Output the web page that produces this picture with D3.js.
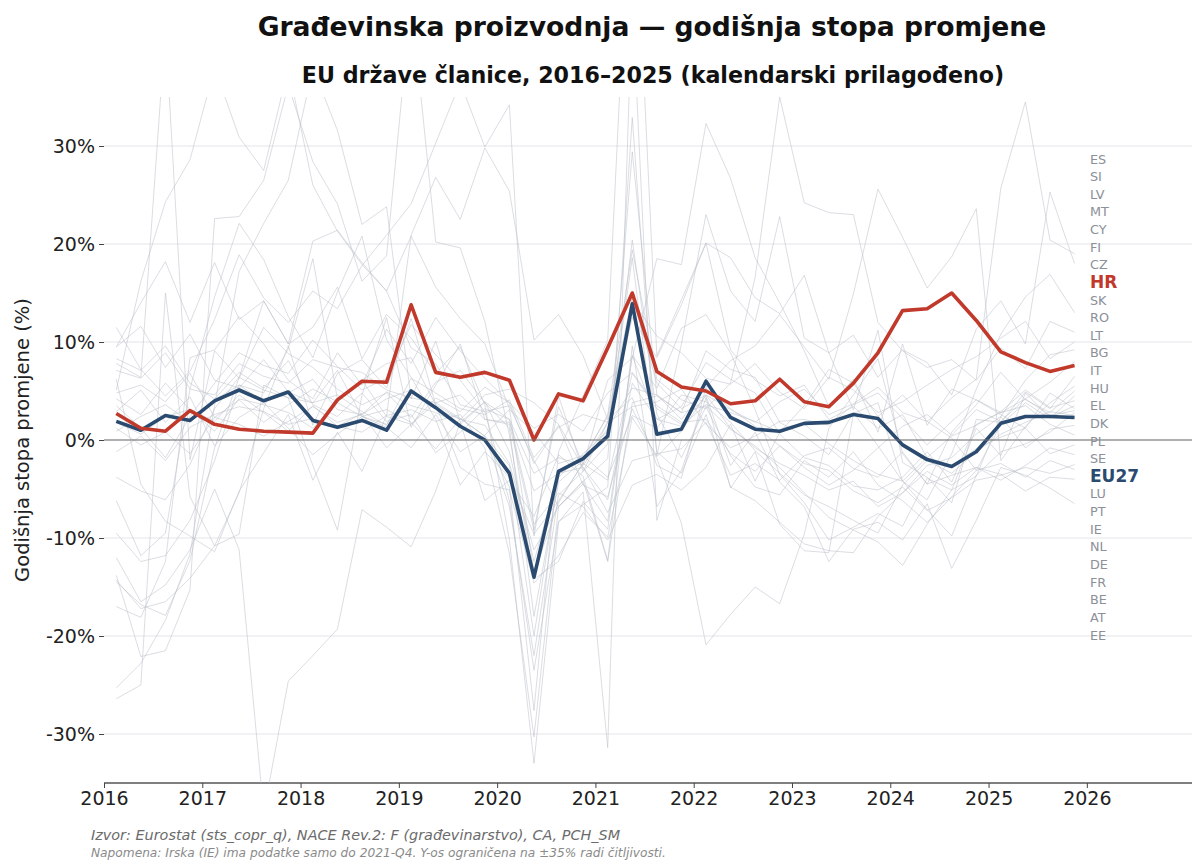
<!DOCTYPE html>
<html><head><meta charset="utf-8">
<script src="https://cdn.jsdelivr.net/npm/d3@7"></script>
<style>
body{margin:0;background:#fff}
svg{display:block}
text{font-family:"DejaVu Sans",sans-serif}
</style>
</head><body>
<svg id="chart" width="1193" height="861"></svg>
<script>
// ---- categories ----
const quarters = ["2016-Q1","2016-Q2","2016-Q3","2016-Q4","2017-Q1","2017-Q2","2017-Q3","2017-Q4",
"2018-Q1","2018-Q2","2018-Q3","2018-Q4","2019-Q1","2019-Q2","2019-Q3","2019-Q4",
"2020-Q1","2020-Q2","2020-Q3","2020-Q4","2021-Q1","2021-Q2","2021-Q3","2021-Q4",
"2022-Q1","2022-Q2","2022-Q3","2022-Q4","2023-Q1","2023-Q2","2023-Q3","2023-Q4",
"2024-Q1","2024-Q2","2024-Q3","2024-Q4","2025-Q1","2025-Q2","2025-Q3","2025-Q4"];

// ---- highlighted series ----
const HR   = [2.7,1.2,0.9,3.0,1.6,1.1,0.9,0.8,0.7,4.1,6.0,5.9,13.8,6.9,6.4,6.9,6.1,0.0,4.7,4.0,9.4,15.0,7.0,5.4,5.0,3.7,4.0,6.2,3.9,3.4,5.8,8.9,13.2,13.4,15.0,12.2,9.0,7.9,7.0,7.6];
const EU27 = [1.9,1.0,2.5,2.0,4.0,5.1,4.0,4.9,2.0,1.3,2.0,1.0,5.0,3.3,1.4,0.0,-3.4,-14.0,-3.2,-1.9,0.4,13.9,0.6,1.1,6.0,2.3,1.1,0.9,1.7,1.8,2.6,2.2,-0.5,-2.0,-2.7,-1.2,1.7,2.4,2.4,2.3];

// ---- other member states ----
const ES = [3.5,1.2,-1.8,2.4,5.8,8.9,7.6,6.8,10.2,7.5,5.1,6.3,11.8,8.7,6.1,2.9,-6.2,-23.5,-8.3,-6.6,-4.8,32.9,-1.7,0.9,4.6,3.1,1.8,3.9,5.2,2.6,3.7,5.4,2.8,1.9,4.3,6.2,25.7,34.5,20.4,19.0];
const SI = [11.5,7.2,4.5,7.0,12.3,18.9,14.5,12.0,15.2,13.4,17.8,20.9,24.1,30.3,36.5,29.9,34.2,-9.8,4.5,-3.2,1.8,12.5,8.4,13.8,20.1,18.6,14.5,12.9,16.8,8.9,10.7,6.4,9.2,7.9,4.6,11.3,14.2,9.8,25.3,18.0];
const LV = [-25.3,-22.8,-18.4,-11.6,3.5,17.2,22.1,26.5,38.0,31.6,22.0,23.8,4.2,10.1,1.8,-6.2,-4.1,-7.8,-1.5,-3.7,-12.3,9.6,-6.8,-3.1,4.3,-4.9,-1.2,-8.6,-11.3,-11.5,2.7,3.8,-4.2,-6.1,-1.4,5.2,10.8,14.6,16.9,13.0];
const MT = [7.8,6.4,42.0,-2.0,9.1,6.3,11.5,8.8,7.4,5.2,3.6,4.8,2.3,5.9,7.1,3.8,1.2,-18.0,-4.3,-2.1,2.6,19.4,6.2,4.1,3.2,5.8,16.6,35.0,24.2,23.2,23.0,12.0,9.1,7.4,8.2,6.1,9.4,7.3,12.1,11.0];
const CY = [5.1,16.2,24.3,28.6,38.0,30.9,27.5,38.0,26.0,21.3,17.9,15.2,20.8,15.6,12.4,9.8,3.2,-13.6,-6.4,-2.3,1.8,14.2,10.6,8.9,6.3,5.7,7.8,4.9,3.2,6.4,5.1,2.8,3.9,5.6,7.2,8.5,10.4,12.1,8.3,10.0];
const FI = [8.3,7.1,9.6,5.8,4.2,6.9,5.3,8.1,3.6,2.4,4.8,1.9,2.6,-1.3,0.8,3.2,2.1,-3.4,-1.8,-2.6,1.2,5.3,4.6,2.8,3.5,1.1,-0.6,-2.8,-5.4,-7.9,-9.2,-10.4,-12.8,-8.6,-5.1,-3.7,2.4,6.1,8.7,9.2];
const CZ = [-9.5,-12.4,-11.8,-8.2,-2.1,5.6,4.8,9.3,18.5,4.2,6.1,7.8,8.4,3.6,2.1,1.5,-2.4,-11.2,-6.8,-4.5,-8.3,8.6,2.1,3.4,7.9,6.2,4.8,0.6,-1.8,-2.6,-4.7,-5.1,-3.8,-1.2,-4.3,1.6,2.8,4.2,5.9,8.0];
const SK = [-14.3,-17.2,-16.5,-14.1,-10.8,-5.4,3.2,9.6,1.5,6.8,8.2,5.3,12.4,3.6,-2.8,-4.5,-5.1,-14.6,-11.8,-7.4,-9.9,2.3,-1.6,9.8,23.0,15.2,12.1,22.8,10.4,8.9,3.1,11.2,-2.3,-3.8,-6.4,2.1,1.8,4.9,3.2,6.5];
const RO = [6.2,-4.5,-8.3,-9.8,-11.4,-5.2,-1.3,2.6,-4.1,0.8,-3.2,2.5,20.9,26.8,22.5,29.8,25.4,10.2,12.8,8.6,2.1,4.3,-2.6,-3.9,5.4,8.1,9.6,12.8,9.5,6.2,14.9,25.6,20.7,15.5,18.7,23.6,-2.1,1.4,3.8,5.5];
const LT = [-17.0,-18.1,-12.4,8.4,9.2,12.6,9.8,6.1,4.2,8.9,5.6,11.3,7.8,12.5,9.1,6.3,3.8,-2.4,1.5,-4.6,-5.8,3.2,-1.9,-8.5,-20.9,-17.8,-15.0,-16.7,-9.6,1.2,4.6,8.3,-1.4,-4.5,0.8,3.6,6.9,4.1,2.8,5.0];
const BG = [-12.0,-16.5,-14.8,-11.2,-5.0,-11.2,-38.0,-24.6,-22.0,-19.3,-7.1,-8.9,-10.9,-5.2,1.8,3.9,2.1,-8.6,-5.4,-6.8,-10.2,-4.6,-3.5,-5.1,-2.8,1.6,-4.2,0.8,3.5,7.2,5.8,2.4,4.6,1.9,0.2,-3.1,1.6,3.8,2.2,4.5];
const IT = [1.2,-0.5,0.8,-1.4,2.3,1.6,0.4,1.9,3.4,1.8,2.6,4.2,5.1,3.3,1.4,0.2,-4.8,-27.6,-1.2,4.5,10.2,62.0,8.6,14.3,20.1,9.2,6.1,4.5,5.6,2.1,3.4,1.2,2.6,-1.8,0.4,1.5,2.9,5.1,3.3,4.0];
const HU = [-13.8,-22.1,-21.5,-15.3,22.6,22.8,26.5,36.2,28.4,24.1,16.2,18.8,45.0,20.2,19.6,12.1,0.5,-14.2,-12.4,-6.3,-9.1,8.6,5.3,11.4,12.8,8.9,3.1,-3.5,-6.4,-10.2,-8.9,-7.5,-8.8,-3.9,-5.1,1.2,-1.6,4.8,2.3,3.5];
const EL = [-26.4,-25.0,15.0,-5.8,-10.8,-9.6,5.6,4.3,-2.6,-9.2,4.6,12.5,1.3,5.6,9.8,2.1,1.6,-9.2,3.4,-2.5,6.1,8.4,18.5,17.9,32.3,26.7,18.6,14.0,9.1,3.4,6.2,0.8,9.8,1.5,5.2,4.1,2.6,1.2,4.8,3.2];
const DK = [4.8,5.6,3.9,6.8,2.3,4.1,1.8,3.6,5.2,3.9,6.1,2.4,1.6,4.3,2.9,5.4,3.8,1.2,2.6,0.9,4.8,6.9,3.5,1.8,2.1,-1.4,-3.2,-0.6,-2.8,-4.6,-3.1,-0.8,1.4,2.6,0.5,3.1,1.9,4.2,2.5,3.0];
const PL = [-14.5,-16.8,-17.9,-12.3,-0.8,6.4,14.2,9.8,20.3,21.4,18.1,15.2,9.4,7.8,3.6,2.9,3.5,-2.1,-6.8,-4.2,-12.4,3.8,4.5,2.8,9.1,7.2,6.4,1.8,0.4,-1.5,2.8,-0.6,-4.2,-7.1,-9.8,-3.6,-1.2,-0.4,0.8,2.8];
const SE = [9.5,11.6,7.4,10.8,6.1,5.3,8.2,4.9,3.8,7.1,2.4,1.3,-0.8,2.6,-1.2,0.5,3.1,0.8,-2.4,-1.6,-3.8,2.5,1.2,4.6,3.9,1.8,-1.1,-3.4,-5.6,-6.8,-8.2,-9.5,-4.6,-2.1,-3.4,-1.2,0.6,1.8,2.9,2.5];
const LU = [4.2,2.6,5.8,3.1,1.9,4.6,2.8,0.9,3.5,1.4,2.7,-0.8,1.6,3.8,2.2,0.4,-2.6,-20.0,-3.8,-1.4,0.9,18.6,-1.2,-3.4,2.6,-4.8,-6.2,-8.4,-10.6,-11.3,-11.5,-7.8,-5.4,-2.6,-1.8,0.6,2.4,-0.8,1.1,1.5];
const PT = [-3.8,-5.2,-6.1,-2.5,3.2,6.4,5.1,4.3,3.8,4.6,2.9,1.5,6.3,4.8,3.2,2.6,4.1,-1.8,1.3,2.6,1.8,3.4,3.9,5.2,1.6,-0.8,0.4,1.9,2.1,1.5,3.6,4.8,2.2,-0.5,1.9,4.1,2.8,3.5,1.6,0.5];
const IE = [9.5,14.0,18.2,12.0,18.1,12.3,14.2,9.8,11.5,15.6,8.3,12.8,10.4,6.8,9.5,3.6,-10.2,-33.0,-8.4,-5.3,-31.4,45.0,-8.2,0.0,null,null,null,null,null,null,null,null,null,null,null,null,null,null,null,null];
const NL = [7.1,6.3,8.9,5.2,4.6,7.8,6.5,5.8,8.2,7.4,6.9,5.1,4.3,3.8,4.6,2.1,1.8,-5.2,-3.4,-2.8,-6.1,5.8,2.1,1.4,3.6,2.8,1.9,0.8,1.6,-0.4,-2.1,-3.5,-4.2,-1.8,-2.6,-0.9,0.3,1.2,-1.4,-0.5];
const DE = [1.8,0.6,2.4,3.1,0.9,4.2,3.6,2.8,1.2,3.8,2.4,1.6,4.9,3.2,2.1,4.6,5.2,3.8,1.6,-2.8,-7.4,-2.1,-1.4,-0.9,1.8,-3.6,-2.4,-4.1,-1.6,-0.8,-2.9,-3.8,-1.2,-4.5,-3.6,-2.8,-4.1,-2.6,-0.8,-1.5];
const FR = [-1.2,0.4,-2.1,1.3,2.6,3.4,2.9,1.6,2.2,1.4,0.8,2.5,3.1,1.9,2.6,-0.8,-11.6,-30.3,-6.8,-4.2,-1.9,29.4,4.6,2.1,5.3,3.2,1.4,-0.6,-2.4,-3.1,-5.2,-6.4,-4.8,-7.2,-5.9,-4.1,-3.6,-2.8,-3.4,-2.5];
const BE = [2.9,5.1,1.8,4.4,-0.6,2.3,3.8,1.2,-1.5,0.6,2.4,3.1,1.8,-0.9,2.2,0.4,-6.8,-22.0,-5.6,-3.2,-0.4,20.4,2.6,-1.8,3.4,-1.6,-4.8,-5.6,-2.1,-3.8,-1.2,-4.6,-6.2,-8.4,-5.8,-3.1,-2.4,-3.8,-2.1,-3.0];
const AT = [0.9,2.4,3.6,1.8,4.1,5.6,3.9,4.8,6.2,3.1,2.6,4.9,3.5,2.8,1.6,3.9,-1.2,-12.4,-3.5,-1.8,2.4,14.6,5.8,3.2,4.6,1.2,-0.8,-2.4,-3.6,-5.1,-4.2,-6.8,-5.4,-3.2,-4.6,-2.8,-3.5,-5.2,-3.8,-4.0];
const EE = [-6.2,-11.8,-9.5,5.2,14.6,22.1,18.4,12.6,8.4,15.1,20.8,10.2,6.4,2.1,-4.6,-1.2,-3.8,-9.6,-6.2,-2.4,-4.1,6.8,3.2,1.6,4.5,-2.6,0.8,-4.3,-6.8,-12.4,-9.1,-8.4,-10.2,-6.5,-13.1,-8.2,-2.8,-3.6,-4.9,-6.5];

// label order on the right (sorted by latest value)
const labelOrder = ["ES","SI","LV","MT","CY","FI","CZ","HR","SK","RO","LT","BG","IT","HU","EL","DK","PL","SE","EU27","LU","PT","IE","NL","DE","FR","BE","AT","EE"];
const yTicks = [-30,-20,-10,0,10,20,30];
const xTicks = [2016,2017,2018,2019,2020,2021,2022,2023,2024,2025,2026];

const others = {ES,SI,LV,MT,CY,FI,CZ,SK,RO,LT,BG,IT,HU,EL,DK,PL,SE,LU,PT,IE,NL,DE,FR,BE,AT,EE};

// ---- drawing ----
const svg = d3.select("#chart");
const L = 104, R = 1192, T = 97, B = 783;
const x = d3.scaleLinear().domain([2016, 2027.07]).range([L, R]);
const y = d3.scaleLinear().domain([-35, 35]).range([B, T]);
const qTime = q => { const [yr, qq] = q.split("-Q"); return +yr + ((+qq - 1) * 3 + 1.5) / 12; };

svg.append("rect").attr("width",1193).attr("height",861).attr("fill","#ffffff");

svg.append("defs").append("clipPath").attr("id","plotclip")
  .append("rect").attr("x",L).attr("y",T).attr("width",R-L).attr("height",B-T);

// grid
svg.append("g").selectAll("line").data(yTicks).join("line")
  .attr("x1",L).attr("x2",R).attr("y1",d=>y(d)).attr("y2",d=>y(d))
  .attr("stroke","#e4e5e9").attr("stroke-width",1);

// y axis (ticks + labels only)
const yAxis = svg.append("g").attr("transform",`translate(${L},0)`)
  .call(d3.axisLeft(y).tickValues(yTicks).tickSize(5).tickPadding(4).tickFormat(d=>d+"%"));
yAxis.select(".domain").remove();
yAxis.selectAll(".tick line").attr("stroke","#444");
yAxis.selectAll(".tick text").attr("font-size",19).attr("fill","#222").attr("font-family","DejaVu Sans");

// x axis
const xAxis = svg.append("g").attr("transform",`translate(0,${B})`)
  .call(d3.axisBottom(x).tickValues(xTicks).tickSize(5).tickPadding(4).tickFormat(d3.format("d")));
xAxis.select(".domain").attr("stroke","#555").attr("stroke-width",1.5).attr("d",`M${L},0H${R}`);
xAxis.selectAll(".tick line").attr("stroke","#444");
xAxis.selectAll(".tick text").attr("font-size",19).attr("fill","#222").attr("font-family","DejaVu Sans");

const line = d3.line()
  .defined(d => d.v !== null)
  .x(d => x(qTime(d.q)))
  .y(d => y(d.v));
const toPts = arr => arr.map((v,i)=>({q:quarters[i], v}));

const plot = svg.append("g").attr("clip-path","url(#plotclip)");

plot.selectAll("path.other").data(Object.entries(others)).join("path")
  .attr("class","other")
  .attr("d", d => line(toPts(d[1])))
  .attr("fill","none").attr("stroke","#bcc1cb").attr("stroke-opacity",0.65).attr("stroke-width",0.85);

// zero line
svg.append("line").attr("x1",L).attr("x2",R).attr("y1",y(0)).attr("y2",y(0))
  .attr("stroke","#6e6e6e").attr("stroke-width",1.2);

plot.append("path").attr("d", line(toPts(EU27)))
  .attr("fill","none").attr("stroke","#2b4a70").attr("stroke-width",3.6).attr("stroke-linejoin","round");
plot.append("path").attr("d", line(toPts(HR)))
  .attr("fill","none").attr("stroke","#c0392b").attr("stroke-width",3.6).attr("stroke-linejoin","round");

// right labels
const labY0 = 159, labStep = 17.63;
svg.append("g").selectAll("text").data(labelOrder).join("text")
  .attr("x",1090).attr("y",(d,i)=>labY0 + i*labStep)
  .attr("dominant-baseline","central")
  .attr("font-size", d => (d==="HR"||d==="EU27") ? 17 : 12.8)
  .attr("font-weight", d => (d==="HR"||d==="EU27") ? "bold" : "normal")
  .attr("fill", d => d==="HR" ? "#c0392b" : d==="EU27" ? "#2b4a70" : "#8c9099")
  .text(d=>d);

// titles
svg.append("text").attr("x",652).attr("y",36).attr("text-anchor","middle")
  .attr("font-size",26.6).attr("font-weight","bold").attr("fill","#111")
  .text("Građevinska proizvodnja — godišnja stopa promjene");
svg.append("text").attr("x",653).attr("y",83).attr("text-anchor","middle")
  .attr("font-size",22.2).attr("font-weight","bold").attr("fill","#111")
  .text("EU države članice, 2016–2025 (kalendarski prilagođeno)");

// y label
svg.append("text").attr("transform","translate(29,440) rotate(-90)")
  .attr("text-anchor","middle").attr("font-size",19.5).attr("fill","#222")
  .text("Godišnja stopa promjene (%)");

// footnotes
svg.append("text").attr("x",91).attr("y",840).attr("font-size",14.4).attr("font-style","italic").attr("fill","#6b6b6b")
  .text("Izvor: Eurostat (sts_copr_q), NACE Rev.2: F (građevinarstvo), CA, PCH_SM");
svg.append("text").attr("x",91).attr("y",857).attr("font-size",12.2).attr("font-style","italic").attr("fill","#8a8a8a")
  .text("Napomena: Irska (IE) ima podatke samo do 2021-Q4. Y-os ograničena na ±35% radi čitljivosti.");
</script>
</body></html>
